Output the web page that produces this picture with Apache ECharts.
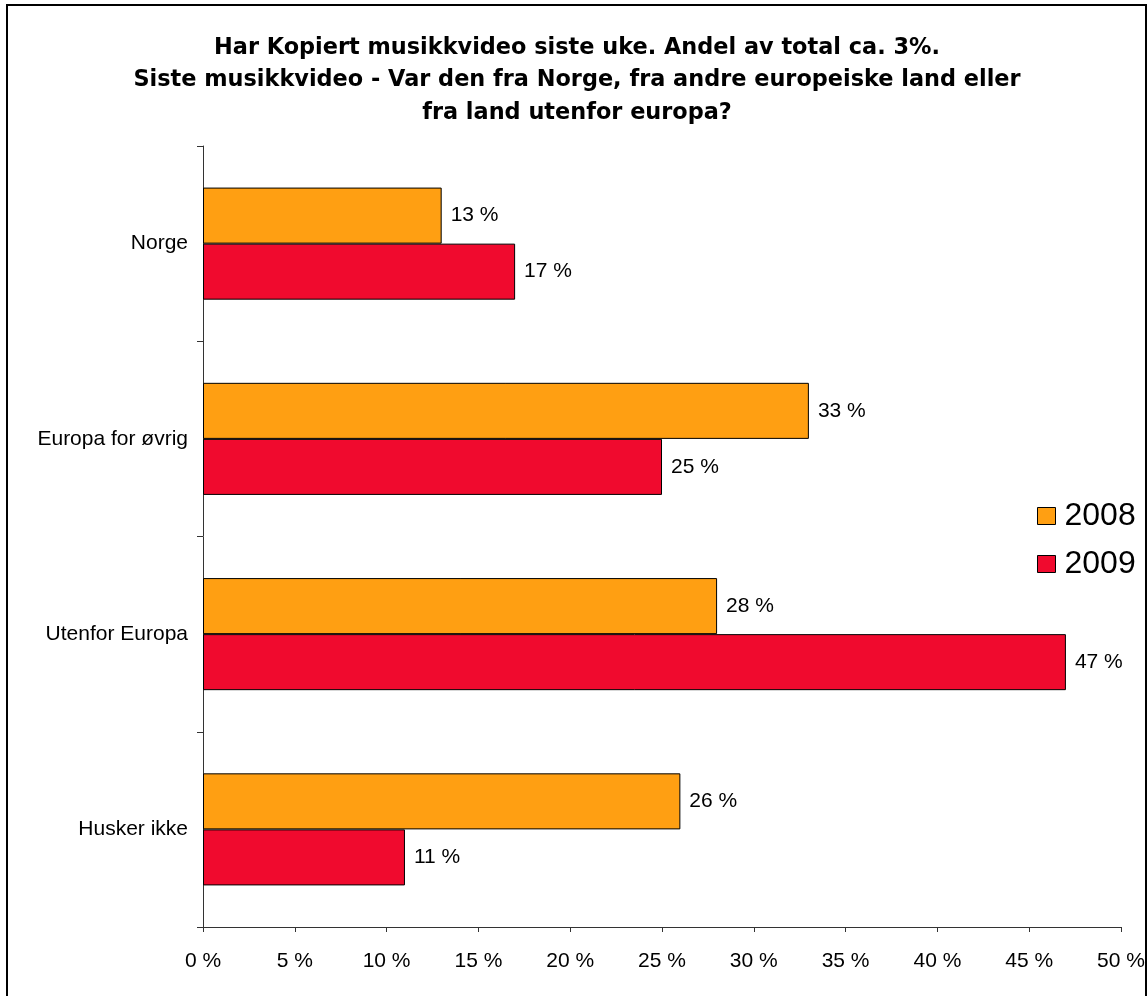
<!DOCTYPE html>
<html>
<head>
<meta charset="utf-8">
<script src="https://cdn.jsdelivr.net/npm/echarts@6/dist/echarts.min.js"></script>
<style>html,body{margin:0;padding:0;background:#fff}#c{width:1148px;height:996px}</style>
</head>
<body>
<div id="c"></div>
<script>
var categories = ['Norge', 'Europa for øvrig', 'Utenfor Europa', 'Husker ikke'];
var values2008 = [13, 33, 28, 26];
var values2009 = [17, 25, 47, 11];
var seriesNames = ['2008', '2009'];
var titleLines = [
  'Har Kopiert musikkvideo siste uke. Andel av total ca. 3%.',
  'Siste musikkvideo - Var den fra Norge, fra andre europeiske land eller',
  'fra land utenfor europa?'
];

var chart = echarts.init(document.getElementById('c'), null, {renderer: 'canvas'});
var FONT = 'Liberation Sans, Arial, sans-serif';
var labelStyle = {
  show: true, position: 'right', distance: 9,
  formatter: function (p) { return p.value + ' %'; },
  fontFamily: FONT, fontSize: 21, color: '#000'
};
var graphics = [{
  type: 'rect', shape: {x: 7, y: 5, width: 1139, height: 1000},
  style: {fill: 'none', stroke: '#000', lineWidth: 2}, silent: true
}];
titleLines.forEach(function (t, i) {
  graphics.push({
    type: 'text', x: 577, y: 48 + i * 32.5, silent: true,
    style: {
      text: t, textAlign: 'center', textVerticalAlign: 'middle',
      font: 'bold 22.4px "DejaVu Sans", Verdana, sans-serif', fill: '#000'
    }
  });
});
chart.setOption({
  animation: false,
  backgroundColor: '#fff',
  graphic: graphics,
  legend: {
    orient: 'vertical', left: 1037, top: 500, padding: 0,
    itemWidth: 18, itemHeight: 17, itemGap: 16,
    icon: 'rect',
    textStyle: {fontFamily: FONT, fontSize: 32, color: '#000', padding: [0,0,0,4]},
    itemStyle: {borderColor: '#000', borderWidth: 1},
    data: seriesNames
  },
  grid: {left: 203, right: 27, top: 146, bottom: 69, containLabel: false},
  xAxis: {
    type: 'value', min: 0, max: 50, interval: 5,
    axisLine: {show: true, lineStyle: {color: '#333', width: 1}},
    axisTick: {show: true, length: 5, lineStyle: {color: '#333'}},
    axisLabel: {
      formatter: '{value} %', margin: 24,
      fontFamily: FONT, fontSize: 21, color: '#000'
    },
    splitLine: {show: false}
  },
  yAxis: {
    type: 'category', data: categories, inverse: true,
    axisLine: {show: true, lineStyle: {color: '#333', width: 1}},
    axisTick: {show: true, length: 6, lineStyle: {color: '#333'}},
    axisLabel: {
      margin: 15,
      fontFamily: FONT, fontSize: 21, color: '#000'
    }
  },
  series: [
    {
      name: seriesNames[0], type: 'bar', data: values2008,
      barGap: '0%', barCategoryGap: '42.6%',
      itemStyle: {color: '#FF9F12', borderColor: '#000', borderWidth: 1},
      label: labelStyle
    },
    {
      name: seriesNames[1], type: 'bar', data: values2009,
      barGap: '0%', barCategoryGap: '42.6%',
      itemStyle: {color: '#F00A2E', borderColor: '#000', borderWidth: 1},
      label: labelStyle
    }
  ]
});
</script>
</body>
</html>
